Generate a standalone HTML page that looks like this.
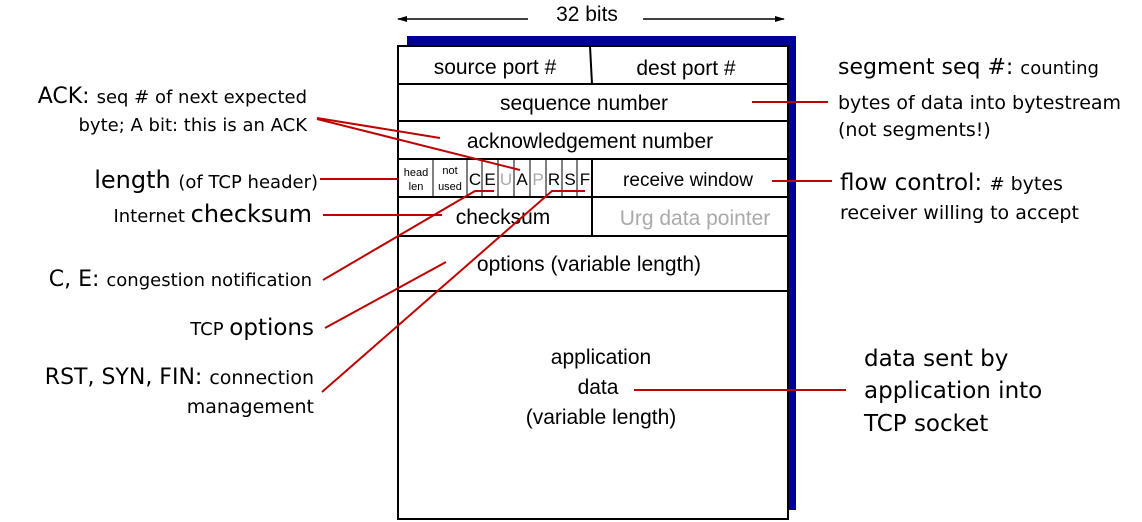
<!DOCTYPE html>
<html><head><meta charset="utf-8"><style>
html,body{margin:0;padding:0;background:#fff;}
svg{display:block;}
.a{font-family:"Liberation Sans",Arial,sans-serif;fill:#000;}
.c{font-family:"DejaVu Sans","Liberation Sans",sans-serif;fill:#000;}
</style></head><body>
<svg width="1142" height="522" viewBox="0 0 1142 522" xmlns="http://www.w3.org/2000/svg">
<defs><marker id="ar" markerWidth="10" markerHeight="8" refX="9" refY="4" orient="auto" markerUnits="userSpaceOnUse"><path d="M0,1 L10,4 L0,7 z" fill="#000"/></marker></defs>
<!-- 32 bits -->
<line x1="528" y1="19" x2="398" y2="19" stroke="#000" stroke-width="1.5" marker-end="url(#ar)"/>
<line x1="643" y1="19" x2="784" y2="19" stroke="#000" stroke-width="1.5" marker-end="url(#ar)"/>
<text x="587" y="21" class="a" font-size="21" text-anchor="middle">32 bits</text>
<!-- shadow -->
<rect x="407" y="36" width="389" height="474" fill="#000099"/>
<rect x="398" y="46" width="390" height="473" fill="#fff" stroke="#000" stroke-width="2"/>
<g stroke="#000" stroke-width="2">
<line x1="398" y1="84" x2="788" y2="84"/>
<line x1="398" y1="121" x2="788" y2="121"/>
<line x1="398" y1="159" x2="788" y2="159"/>
<line x1="398" y1="197" x2="788" y2="197"/>
<line x1="398" y1="236" x2="788" y2="236"/>
<line x1="398" y1="291" x2="788" y2="291"/>
<line x1="590" y1="46" x2="592" y2="84"/>
<line x1="592" y1="159" x2="592" y2="236"/>
</g>
<g stroke="#000" stroke-width="1">
<line x1="433" y1="159" x2="433" y2="197"/>
<line x1="467" y1="159" x2="467" y2="197"/>
<line x1="482" y1="159" x2="482" y2="197"/>
<line x1="498" y1="159" x2="498" y2="197"/>
<line x1="514" y1="159" x2="514" y2="197"/>
<line x1="530" y1="159" x2="530" y2="197"/>
<line x1="546" y1="159" x2="546" y2="197"/>
<line x1="562" y1="159" x2="562" y2="197"/>
<line x1="577" y1="159" x2="577" y2="197"/>
</g>
<g class="a" text-anchor="middle" font-size="21">
<text x="495" y="74">source port #</text>
<text x="686" y="75">dest port #</text>
<text x="584" y="110">sequence number</text>
<text x="590" y="148">acknowledgement number</text>
<text x="688" y="186" font-size="19">receive window</text>
<text x="503" y="224">checksum</text>
<text x="695" y="225" fill="#aaa" style="fill:#aaa">Urg data pointer</text>
<text x="589" y="271">options (variable length)</text>
<text x="601" y="364">application</text>
<text x="598" y="394">data</text>
<text x="601" y="424">(variable length)</text>
</g>
<g class="a" text-anchor="middle" font-size="11">
<text x="416" y="176">head</text><text x="416" y="190">len</text>
<text x="450" y="174">not</text><text x="450" y="190">used</text>
</g>
<g class="a" text-anchor="middle" font-size="17">
<text x="475" y="185">C</text><text x="490" y="185">E</text>
<text x="506" y="185" style="fill:#aaa">U</text><text x="522" y="185">A</text>
<text x="538" y="185" style="fill:#aaa">P</text><text x="554" y="185">R</text>
<text x="570" y="185">S</text><text x="585" y="185">F</text>
</g>
<!-- red lines -->
<g stroke="#c00000" stroke-width="2" fill="none">
<polyline points="317,118 440,138"/>
<polyline points="317,119 520,170"/>
<polyline points="320,179 398,179"/>
<polyline points="323,215 442,215"/>
<polyline points="323,280 475,191 494,191"/>
<polyline points="325,328 446,262"/>
<polyline points="322,392 552,191 585,191"/>
<polyline points="752,102 828,102"/>
<polyline points="772,181 832,181"/>
<polyline points="634,390 846,390"/>
</g>
<!-- left labels -->
<g class="c" text-anchor="end">
<text x="307" y="103" font-size="22">ACK: <tspan font-size="18">seq # of next expected</tspan></text>
<text x="307" y="131" font-size="18">byte; A bit: this is an ACK</text>
<text x="318" y="188" font-size="24">length <tspan font-size="18">(of TCP header)</tspan></text>
<text x="312" y="222" font-size="18">Internet <tspan font-size="24">checksum</tspan></text>
<text x="312" y="286" font-size="22">C, E: <tspan font-size="18">congestion notification</tspan></text>
<text x="314" y="335" font-size="18">TCP <tspan font-size="23">options</tspan></text>
<text x="314" y="384" font-size="22">RST, SYN, FIN: <tspan font-size="19">connection</tspan></text>
<text x="314" y="413" font-size="19">management</text>
</g>
<!-- right labels -->
<g class="c">
<text x="838" y="74" font-size="22">segment seq  #: <tspan font-size="18">counting</tspan></text>
<text x="838" y="109" font-size="19">bytes of data into bytestream</text>
<text x="838" y="136" font-size="19">(not segments!)</text>
<text x="840" y="190" font-size="23">flow control: <tspan font-size="18">#</tspan><tspan font-size="19"> bytes</tspan></text>
<text x="840" y="219" font-size="19">receiver willing to accept</text>
<text x="864" y="366" font-size="23">data sent by</text>
<text x="864" y="398" font-size="23">application into</text>
<text x="864" y="431" font-size="23">TCP socket</text>
</g>
</svg>
</body></html>
